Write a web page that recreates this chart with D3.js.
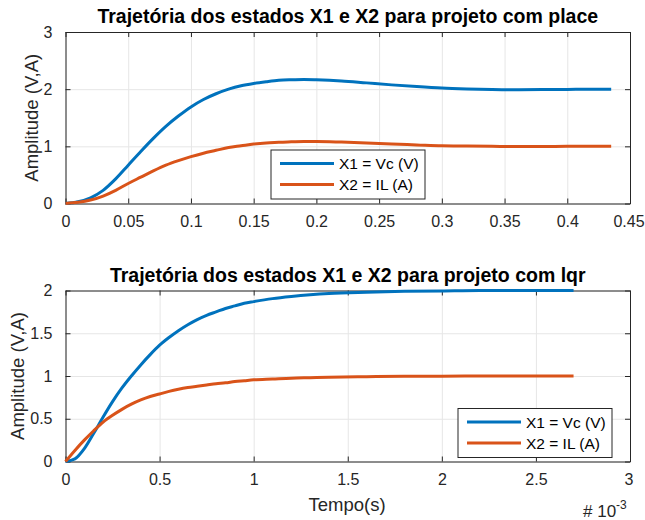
<!DOCTYPE html>
<html>
<head>
<meta charset="utf-8">
<script src="https://cdn.jsdelivr.net/npm/d3@7"></script>
<style>
  body { margin: 0; background: #fff; }
  svg { display: block; font-family: "Liberation Sans", Arial, Helvetica, sans-serif; }
</style>
</head>
<body>
<div id="chart"></div>
<script>
// resposta com place (tempo em s)
const tPlace = [0, 0.01, 0.02, 0.03, 0.04, 0.05, 0.06, 0.07, 0.08, 0.09, 0.10, 0.11, 0.12, 0.13, 0.14, 0.15,
  0.16, 0.17, 0.18, 0.19, 0.20, 0.22, 0.24, 0.26, 0.28, 0.30, 0.32, 0.34, 0.36, 0.38, 0.40, 0.42, 0.435];
const x1Place = [0, 0.03, 0.1, 0.23, 0.43, 0.67, 0.91, 1.14, 1.35, 1.53, 1.69, 1.82, 1.92, 2.0, 2.06, 2.1,
  2.13, 2.155, 2.165, 2.17, 2.165, 2.145, 2.11, 2.075, 2.045, 2.02, 2.005, 1.995, 1.99, 1.992, 1.996, 2.0, 2.0];
const x2Place = [0, 0.02, 0.06, 0.13, 0.23, 0.35, 0.46, 0.57, 0.67, 0.75, 0.82, 0.88, 0.93, 0.98, 1.01, 1.04,
  1.06, 1.07, 1.08, 1.085, 1.085, 1.075, 1.06, 1.04, 1.025, 1.01, 1.005, 1.0, 0.995, 0.995, 1.0, 1.0, 1.0];

// resposta com lqr (tempo em 1e-3 s)
const tLqr = [0, 0.05, 0.1, 0.15, 0.2, 0.25, 0.3, 0.35, 0.4, 0.45, 0.5, 0.55, 0.6, 0.65, 0.7, 0.75, 0.8,
  0.85, 0.9, 0.95, 1.0, 1.1, 1.2, 1.3, 1.4, 1.6, 1.8, 2.0, 2.2, 2.4, 2.7];
const x1Lqr = [0, 0.03, 0.15, 0.33, 0.52, 0.70, 0.86, 1.0, 1.13, 1.25, 1.36, 1.45, 1.53, 1.60, 1.66, 1.71, 1.75,
  1.79, 1.82, 1.85, 1.87, 1.905, 1.93, 1.95, 1.965, 1.98, 1.99, 1.995, 2.0, 2.0, 2.0];
const x2Lqr = [0, 0.13, 0.25, 0.36, 0.46, 0.54, 0.61, 0.67, 0.72, 0.76, 0.79, 0.82, 0.845, 0.865, 0.88, 0.895, 0.91,
  0.92, 0.935, 0.945, 0.955, 0.965, 0.975, 0.98, 0.985, 0.992, 0.996, 0.998, 1.0, 1.0, 1.0];

const placeXTicks = [0, 0.05, 0.1, 0.15, 0.2, 0.25, 0.3, 0.35, 0.4, 0.45];
const placeYTicks = [0, 1, 2, 3];
const lqrXTicks = [0, 0.5, 1, 1.5, 2, 2.5, 3];
const lqrYTicks = [0, 0.5, 1, 1.5, 2];

const seriesNames = ["X1 = Vc (V)", "X2 = IL (A)"];
const colors = ["#0072BD", "#D95319"];

const width = 645, height = 520;
const axisColor = "#262626";

const svg = d3.select("#chart").append("svg")
  .attr("width", width)
  .attr("height", height);

function panel(opts) {
  const { box, t, series, xTicks, yTicks, xDomain, yDomain, title, legend, labelX } = opts;

  const x = d3.scaleLinear().domain(xDomain).range([box.left, box.right]);
  const y = d3.scaleLinear().domain(yDomain).range([box.bottom, box.top]);
  const fmt = d3.format("~g");
  const g = svg.append("g");

  // grade
  g.append("g")
    .attr("transform", `translate(0,${box.bottom})`)
    .call(d3.axisBottom(x).tickValues(xTicks).tickSize(-(box.bottom - box.top)).tickFormat(""))
    .call(s => s.select(".domain").remove())
    .call(s => s.selectAll("line").attr("stroke", "#e6e6e6"));
  g.append("g")
    .attr("transform", `translate(${box.left},0)`)
    .call(d3.axisLeft(y).tickValues(yTicks).tickSize(-(box.right - box.left)).tickFormat(""))
    .call(s => s.select(".domain").remove())
    .call(s => s.selectAll("line").attr("stroke", "#e6e6e6"));

  // eixos
  const styleAxis = s => {
    s.select(".domain").attr("stroke", axisColor).attr("stroke-width", 1);
    s.selectAll(".tick line").attr("stroke", axisColor);
    s.selectAll("text").attr("fill", axisColor).attr("font-size", "16px");
  };
  g.append("g")
    .attr("transform", `translate(0,${box.bottom})`)
    .call(d3.axisBottom(x).tickValues(xTicks).tickSizeInner(-5).tickSizeOuter(0).tickPadding(12).tickFormat(fmt))
    .call(styleAxis)
    .call(s => s.selectAll(".tick:last-of-type text").attr("dx", -1.5));
  g.append("g")
    .attr("transform", `translate(0,${box.top})`)
    .call(d3.axisTop(x).tickValues(xTicks).tickSizeInner(-5).tickSizeOuter(0).tickFormat(""))
    .call(styleAxis);
  g.append("g")
    .attr("transform", `translate(${box.left},0)`)
    .call(d3.axisLeft(y).tickValues(yTicks).tickSizeInner(-5).tickSizeOuter(0).tickPadding(13).tickFormat(fmt))
    .call(styleAxis);
  g.append("g")
    .attr("transform", `translate(${box.right},0)`)
    .call(d3.axisRight(y).tickValues(yTicks).tickSizeInner(-5).tickSizeOuter(0).tickFormat(""))
    .call(styleAxis);

  // curvas
  const line = d3.line()
    .x((d, i) => x(t[i]))
    .y(d => y(d))
    .curve(d3.curveMonotoneX);
  series.forEach((vals, k) => {
    g.append("path")
      .attr("d", line(vals))
      .attr("fill", "none")
      .attr("stroke", colors[k])
      .attr("stroke-width", 3)
      .attr("stroke-linejoin", "round");
  });

  // titulo
  g.append("text")
    .attr("x", (box.left + box.right) / 2)
    .attr("y", box.top - 9)
    .attr("text-anchor", "middle")
    .attr("font-weight", "bold")
    .attr("font-size", "19.5px")
    .attr("fill", "#000")
    .text(title);

  // rotulo y
  g.append("text")
    .attr("transform", `translate(${labelX},${(box.top + box.bottom) / 2}) rotate(-90)`)
    .attr("text-anchor", "middle")
    .attr("font-size", "18.5px")
    .attr("fill", axisColor)
    .text("Amplitude (V,A)");

  // legenda
  const lg = g.append("g").attr("transform", `translate(${legend.x},${legend.y})`);
  lg.append("rect")
    .attr("width", 154).attr("height", 49)
    .attr("fill", "#fff")
    .attr("stroke", axisColor).attr("stroke-width", 1);
  seriesNames.forEach((name, k) => {
    const yy = 13.5 + k * 21;
    lg.append("line")
      .attr("x1", 9).attr("x2", 63).attr("y1", yy).attr("y2", yy)
      .attr("stroke", colors[k]).attr("stroke-width", 3);
    lg.append("text")
      .attr("x", 68).attr("y", yy + 5.5)
      .attr("font-size", "15.5px")
      .attr("fill", "#000")
      .text(name);
  });
  return { x, y };
}

panel({
  box: { left: 65.5, right: 630, top: 32, bottom: 203.5 },
  t: tPlace, series: [x1Place, x2Place],
  xTicks: placeXTicks, yTicks: placeYTicks,
  xDomain: [0, 0.45], yDomain: [0, 3],
  title: "Trajetória dos estados X1 e X2 para projeto com place",
  legend: { x: 271, y: 150 },
  labelX: 38
});

panel({
  box: { left: 65.5, right: 630, top: 290.5, bottom: 461.5 },
  t: tLqr, series: [x1Lqr, x2Lqr],
  xTicks: lqrXTicks, yTicks: lqrYTicks,
  xDomain: [0, 3], yDomain: [0, 2],
  title: "Trajetória dos estados X1 e X2 para projeto com lqr",
  legend: { x: 458, y: 408.5 },
  labelX: 24
});

svg.append("text")
  .attr("x", 347)
  .attr("y", 511)
  .attr("text-anchor", "middle")
  .attr("font-size", "18.5px")
  .attr("fill", axisColor)
  .text("Tempo(s)");

const expo = svg.append("text")
  .attr("x", 583)
  .attr("y", 516.5)
  .attr("font-size", "17px")
  .attr("fill", axisColor);
expo.append("tspan").text("# 10");
expo.append("tspan").attr("dy", -8).attr("font-size", "12px").text("-3");
</script>
</body>
</html>
